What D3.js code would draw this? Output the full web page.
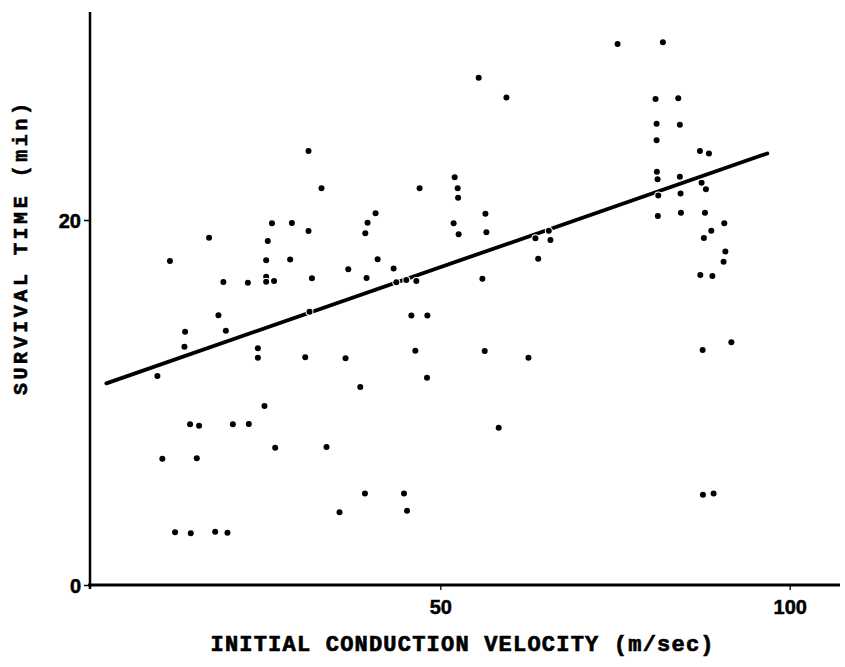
<!DOCTYPE html>
<html>
<head>
<meta charset="utf-8">
<script src="https://cdn.jsdelivr.net/npm/d3@7"></script>
<style>
  html, body { margin: 0; padding: 0; background: #fff; }
  svg { display: block; }
</style>
</head>
<body>
<svg id="chart" width="845" height="667"></svg>
<script>
// Initial conduction velocity (m/sec)
const velocity = [
  11.3, 16.9, 18.95, 22.45, 25.07, 25.07, 26.2, 25.3, 25.07, 25.9,
  28.75, 28.5, 18.24, 13.47, 13.37, 19.3, 23.88, 23.88, 9.5, 24.83,
  14.18, 15.47, 20.3, 22.59, 26.36, 10.21, 15.14, 12.03, 14.28, 17.77,
  19.53, 31.13, 32.99, 47.03, 52.05, 52.48, 52.54, 31.13, 39.58, 40.73,
  39.26, 51.9, 52.62, 56.45, 56.59, 31.62, 36.82, 41.02, 39.44, 43.31,
  43.7, 45.13, 46.56, 63.61, 65.52, 65.76, 64.0, 56.02, 31.28, 45.85,
  48.14, 55.49, 59.46, 30.66, 36.43, 46.42, 56.35, 62.61, 38.54, 48.09,
  33.71, 58.35, 39.21, 44.8, 35.57, 45.23, 75.36, 81.85, 80.8, 84.05,
  80.95, 84.28, 80.95, 87.15, 88.44, 80.99, 81.09, 84.28, 87.39, 88.01,
  81.19, 84.38, 81.13, 84.43, 87.87, 90.64, 88.78, 87.72, 90.79, 90.54,
  87.21, 88.93, 87.54, 91.65, 87.58, 89.11
];
// Survival time (min)
const survival = [
  17.75, 19.03, 16.6, 16.56, 16.89, 16.62, 16.66, 18.85, 17.79, 19.82,
  19.84, 17.84, 14.78, 13.88, 13.06, 13.93, 12.97, 12.45, 11.45, 9.81,
  8.81, 8.73, 8.81, 8.82, 7.52, 6.92, 6.94, 2.89, 2.83, 2.92,
  2.87, 23.78, 21.74, 21.74, 22.34, 21.74, 21.22, 19.4, 19.85, 20.37,
  19.27, 19.82, 19.22, 20.35, 19.33, 16.81, 17.3, 17.85, 16.82, 17.35,
  16.59, 16.71, 16.66, 19.0, 19.41, 18.9, 17.88, 16.78, 14.98, 14.77,
  14.77, 27.8, 26.72, 12.48, 12.42, 12.84, 12.82, 12.45, 10.85, 11.36,
  7.56, 8.62, 5.02, 5.02, 3.98, 4.07, 29.64, 29.74, 26.63, 26.68,
  25.28, 25.22, 24.37, 23.78, 23.65, 22.65, 22.23, 22.37, 22.04, 21.68,
  21.35, 21.46, 20.22, 20.4, 20.4, 19.82, 19.41, 19.01, 18.28, 17.72,
  16.99, 16.93, 12.88, 13.3, 4.95, 5.02
];
// Regression line end points
const fitVelocity = [2.2, 96.8];
const fitSurvival = [11.05, 23.65];
// Tick labels
const xTicks = [50, 100];
const yTicks = [0, 20];
const xTitle = "INITIAL CONDUCTION VELOCITY (m/sec)";
const yTitle = "SURVIVAL TIME (min)";

const svg = d3.select("#chart");
const x = d3.scaleLinear().domain([0, 107.2]).range([91, 840]);
const y = d3.scaleLinear().domain([0, 31.4]).range([585, 12]);

// X axis
const gx = svg.append("g").attr("transform", `translate(0,${y(0)})`)
  .call(d3.axisBottom(x).tickValues(xTicks).tickSizeInner(5).tickSizeOuter(0).tickPadding(10));
gx.select(".domain").attr("stroke", "#000").attr("stroke-width", 2.8)
  .attr("d", `M${x(0) - 3},0H${x(107.2)}`);
gx.selectAll(".tick line").attr("stroke", "#000").attr("stroke-width", 1.3);
gx.selectAll(".tick text").attr("font-family", "Liberation Sans, Arial, sans-serif")
  .attr("font-weight", "bold").attr("font-size", 20).attr("fill", "#000")
  .attr("stroke", "#000").attr("stroke-width", 0.5);

// Y axis
const gy = svg.append("g").attr("transform", `translate(${x(0) - 1},0)`)
  .call(d3.axisLeft(y).tickValues(yTicks).tickSizeInner(6).tickSizeOuter(0).tickPadding(3));
gy.select(".domain").attr("stroke", "#000").attr("stroke-width", 2.5)
  .attr("d", `M0,${y(0) + 4}V${y(31.4)}`);
gy.selectAll(".tick line").attr("stroke", "#000").attr("stroke-width", 1.5);
gy.selectAll(".tick text").attr("font-family", "Liberation Sans, Arial, sans-serif")
  .attr("font-weight", "bold").attr("font-size", 20).attr("fill", "#000").attr("dy", "0.36em")
  .attr("stroke", "#000").attr("stroke-width", 0.5);

// Regression line
const fit = fitVelocity.map((v, i) => [v, fitSurvival[i]]);
svg.append("path").datum(fit)
  .attr("d", d3.line().x(d => x(d[0])).y(d => y(d[1])))
  .attr("fill", "none").attr("stroke", "#000").attr("stroke-width", 3.8)
  .attr("stroke-linecap", "round");

// Points
const pts = velocity.map((v, i) => [v, survival[i]]);
svg.append("g").selectAll("circle").data(pts).join("circle")
  .attr("cx", d => x(d[0])).attr("cy", d => y(d[1])).attr("r", 3)
  .attr("fill", "#000").attr("stroke", "#fff").attr("stroke-width", 2)
  .attr("paint-order", "stroke");

// Axis titles
svg.append("text").attr("x", 462).attr("y", 651)
  .attr("text-anchor", "middle")
  .attr("font-family", "Liberation Mono, Courier New, monospace")
  .attr("font-weight", "bold").attr("font-size", 22)
  .attr("stroke", "#000").attr("stroke-width", 0.7)
  .attr("textLength", 503).attr("lengthAdjust", "spacing")
  .attr("fill", "#000").text(xTitle);

svg.append("text")
  .attr("transform", "translate(27,249) rotate(-90)")
  .attr("text-anchor", "middle")
  .attr("font-family", "Liberation Mono, Courier New, monospace")
  .attr("font-weight", "bold").attr("font-size", 20)
  .attr("stroke", "#000").attr("stroke-width", 0.6)
  .attr("textLength", 292).attr("lengthAdjust", "spacing")
  .attr("fill", "#000").text(yTitle);
</script>
</body>
</html>
